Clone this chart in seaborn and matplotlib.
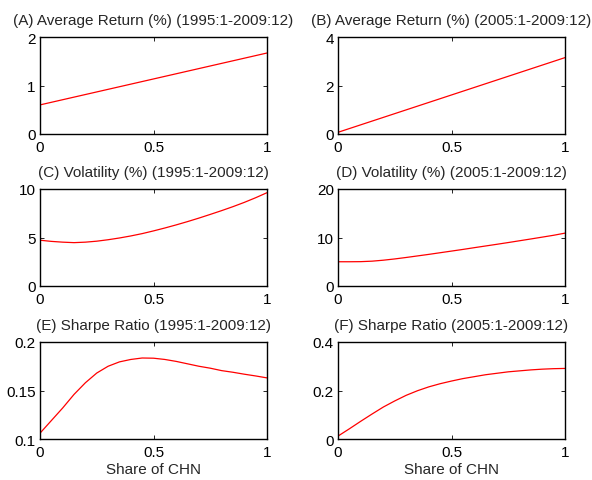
import numpy as np
import pandas as pd
import matplotlib
matplotlib.use("Agg")
import matplotlib.pyplot as plt
import seaborn as sns

# Portfolio share of CHN
share = [0.00, 0.05, 0.10, 0.15, 0.20, 0.25, 0.30, 0.35, 0.40, 0.45, 0.50,
         0.55, 0.60, 0.65, 0.70, 0.75, 0.80, 0.85, 0.90, 0.95, 1.00]

share_line = [0.0, 0.5, 1.0]
ret_9509 = [0.60, 1.135, 1.67]
ret_0509 = [0.07, 1.61, 3.15]

vol_9509 = [4.72, 4.60, 4.52, 4.47, 4.52, 4.62, 4.77, 4.95, 5.16, 5.40, 5.68,
            5.98, 6.30, 6.64, 7.00, 7.38, 7.77, 8.18, 8.62, 9.10, 9.62]
vol_0509 = [5.00, 5.00, 5.02, 5.12, 5.32, 5.58, 5.88, 6.20, 6.52, 6.86, 7.20,
            7.54, 7.90, 8.25, 8.60, 8.96, 9.33, 9.70, 10.08, 10.46, 10.90]

sr_9509 = [0.106, 0.119, 0.132, 0.146, 0.158, 0.168, 0.175, 0.1795, 0.182, 0.1835, 0.1833,
           0.182, 0.180, 0.1775, 0.175, 0.173, 0.1705, 0.1688, 0.1668, 0.165, 0.163]
sr_0509 = [0.012, 0.042, 0.073, 0.103, 0.132, 0.157, 0.180, 0.199, 0.215, 0.228, 0.239,
           0.249, 0.257, 0.265, 0.271, 0.277, 0.281, 0.285, 0.288, 0.290, 0.291]

titles = ["(A) Average Return (%) (1995:1-2009:12)",
          "(B) Average Return (%) (2005:1-2009:12)",
          "(C) Volatility (%) (1995:1-2009:12)",
          "(D) Volatility (%) (2005:1-2009:12)",
          "(E) Sharpe Ratio (1995:1-2009:12)",
          "(F) Sharpe Ratio (2005:1-2009:12)"]
y_ticks = [[0, 1, 2], [0, 2, 4], [0, 5, 10], [0, 10, 20], [0.1, 0.15, 0.2], [0, 0.2, 0.4]]
y_ticklabels = [["0", "1", "2"], ["0", "2", "4"], ["0", "5", "10"], ["0", "10", "20"],
                ["0.1", "0.15", "0.2"], ["0", "0.2", "0.4"]]
x_ticks = [0, 0.5, 1]
x_ticklabels = ["0", "0.5", "1"]
x_label = "Share of CHN"

sns.set_theme(style="ticks")
plt.rcParams["font.family"] = ["Liberation Sans", "DejaVu Sans"]
plt.rcParams.update({
    "xtick.direction": "in", "ytick.direction": "in",
    "xtick.top": True, "ytick.right": True,
    "xtick.major.size": 3, "ytick.major.size": 3,
    "xtick.major.width": 0.6, "ytick.major.width": 0.6,
    "axes.linewidth": 1.0, "axes.edgecolor": "black",
    "xtick.labelsize": 11, "ytick.labelsize": 11,
})

panels = [
    (share_line, ret_9509), (share_line, ret_0509),
    (share, vol_9509), (share, vol_0509),
    (share, sr_9509), (share, sr_0509),
]

fig = plt.figure(figsize=(5.92, 4.81), dpi=100)
lefts = [40 / 592, 338 / 592]
width = 227 / 592
bottoms = [1 - 135 / 481, 1 - 287 / 481, 1 - 440 / 481]
height = 97 / 481

for i, (xs, ys) in enumerate(panels):
    r, c = divmod(i, 2)
    ax = fig.add_axes([lefts[c], bottoms[r], width, height])
    df = pd.DataFrame({"share": xs, "value": ys})
    sns.lineplot(data=df, x="share", y="value", ax=ax, color="#ff0000", linewidth=0.9)
    ax.set_xlim(0, 1)
    ax.set_ylim(y_ticks[i][0], y_ticks[i][-1])
    ax.set_xticks(x_ticks)
    ax.set_xticklabels(x_ticklabels)
    ax.set_yticks(y_ticks[i])
    ax.set_yticklabels(y_ticklabels[i])
    ax.tick_params(axis="y", colors="black", pad=3)
    ax.tick_params(axis="x", colors="black", pad=4.5)
    ax.set_title(titles[i], fontsize=11, pad=9.5)
    ax.set_ylabel("")
    ax.set_xlabel(x_label if r == 2 else "", fontsize=11, labelpad=2)
    for s in ax.spines.values():
        s.set_visible(True)

fig.savefig("out.png", dpi=100, facecolor="white")
